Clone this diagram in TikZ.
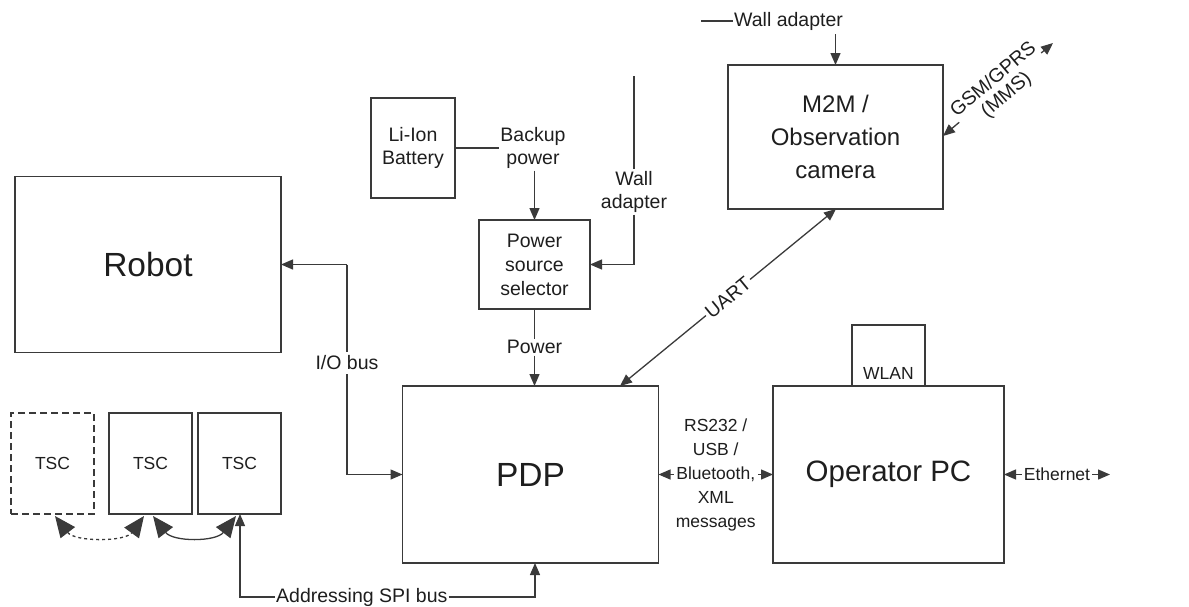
\documentclass[tikz,border=0pt]{standalone}
\usepackage{fontspec}
\setmainfont{Liberation Sans}
\usetikzlibrary{arrows.meta}
\definecolor{ln}{HTML}{3A3A3A}
\definecolor{tx}{HTML}{1E1E1E}
\tikzset{
  box/.style={draw=ln, line width=1.3pt, inner sep=0pt, outer sep=0pt, text=tx, align=center},
  lbl/.style={text=tx, align=center, inner sep=1.5pt, font=\fontsize{19.5}{23.5}\selectfont},
  mid/.style={font=\fontsize{17.5}{24}\selectfont},
  big/.style={font=\fontsize{33.5}{38}\selectfont},
  con/.style={draw=ln, line width=1.3pt, arrows={-Triangle[length=12pt,width=10pt]}},
  bicon/.style={draw=ln, line width=1.3pt, arrows={Triangle[length=12pt,width=10pt]-Triangle[length=12pt,width=10pt]}},
  plain/.style={draw=ln, line width=1.3pt},
  tscarr/.style={draw=ln, line width=1.3pt, arrows={Triangle[length=21pt,width=18pt]-Triangle[length=21pt,width=18pt]}},
}
\begin{document}
\begin{tikzpicture}[x=1pt,y=-1pt]
\useasboundingbox (0,0) rectangle (1189,606);
% boxes
\node[box, big, minimum width=266pt, minimum height=176pt] (robot) at (148,264.5) {Robot};
\node[box, minimum width=84pt, minimum height=100pt, font=\fontsize{19.5}{23.5}\selectfont] (bat) at (413,148) {Li-Ion\\Battery};
\node[box, minimum width=111pt, minimum height=89pt, font=\fontsize{19.5}{24}\selectfont] (sel) at (534.5,264.5) {Power\\source\\selector};
\node[box, big, minimum width=256pt, minimum height=177pt] (pdp) at (530.5,474.5) {PDP};
\node[box, minimum width=73pt, minimum height=61pt] (wlan) at (888.5,355.5) {};
\node[lbl, mid] (wlant) at (888.5,373) {WLAN};
\node[box, minimum width=231pt, minimum height=177pt, font=\fontsize{29.5}{36}\selectfont] (opc) at (888.5,474.5) {Operator PC};
\node[box, minimum width=215pt, minimum height=144pt, font=\fontsize{24}{33}\selectfont] (m2m) at (835.5,137) {M2M /\\Observation\\camera};
\node[box, mid, minimum width=83pt, minimum height=101pt, dash pattern=on 7pt off 4pt] (tsc1) at (52.5,463.5) {TSC};
\node[box, mid, minimum width=83pt, minimum height=101pt] (tsc2) at (150.5,463.5) {TSC};
\node[box, mid, minimum width=83pt, minimum height=101pt] (tsc3) at (239.5,463.5) {TSC};

% battery / backup power
\node[lbl] (bp) at (533,148) {Backup\\power};
\draw[plain] (bat.east) -- (bp.west);
\draw[con] (bp.south -| sel.north) -- (sel.north);

% wall adapter to selector
\coordinate (wtop) at (634,76);
\node[lbl] (wa) at (634,192) {Wall\\adapter};
\draw[plain] (wtop) -- (wa.north);
\draw[con] (wa.south) |- (sel.east);

% power to PDP
\node[lbl] (pw) at (534.5,347) {Power};
\draw[plain] (sel.south) -- (pw.north);
\draw[con] (pw.south) -- (pw.south |- pdp.north);

% UART
\coordinate (uartA) at (620,386);
\coordinate (uartB) at (836,209);
\draw[bicon] (uartA) -- node[lbl, midway, sloped, fill=white, inner xsep=2pt, inner ysep=0pt] {UART} (uartB);

% wall adapter to M2M
\coordinate (wa2l) at (701,21);
\node[lbl, anchor=west, inner sep=1pt] (wa2) at (733,21) {Wall adapter};
\draw[plain] (wa2l) -- (wa2.west);
\draw[con] (m2m.north |- 0,34) -- (m2m.north);

% GSM
\coordinate (gsmA) at (943,136);
\coordinate (gsmB) at (1053,43);
\draw[bicon] (gsmA) -- node[lbl, pos=0.52, sloped, fill=white, inner sep=1pt, font=\fontsize{19.5}{20}\selectfont] {GSM/GPRS\\(MMS)} (gsmB);

% I/O bus
\coordinate (iob) at (347,264.5);
\draw[con] (iob) -- (robot.east);
\draw[con] (iob) |- (pdp.west);
\node[lbl, fill=white, inner xsep=2pt, inner ysep=4pt] (io) at (347,363) {I/O bus};

% RS232
\draw[bicon] (pdp.east) -- node[lbl, mid, midway, fill=white, inner xsep=2pt] {RS232 /\\USB /\\Bluetooth,\\XML\\messages} (opc.west);

% Ethernet
\coordinate (eth) at (1110,474.5);
\draw[bicon] (opc.east) -- node[lbl, mid, midway, fill=white, inner xsep=2pt] {Ethernet} (eth);

% SPI bus
\node[lbl, anchor=west, inner sep=1pt] (spi) at (275,597) {Addressing SPI bus};
\draw[con] (spi.west) -| (240,514);
\draw[con] (spi.east) -| (535,563);

% TSC links
\draw[tscarr, dashed] (55,516) .. controls (75,542) and (125,542) .. (144,516);
\draw[tscarr] (153,516) .. controls (173,542) and (216,542) .. (236,516);
\end{tikzpicture}
\end{document}
